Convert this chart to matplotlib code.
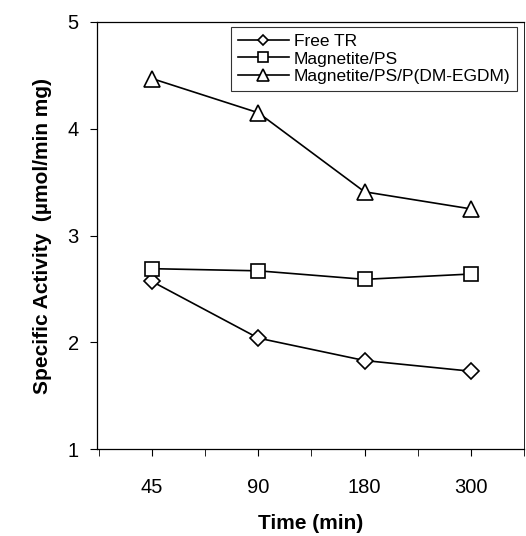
import matplotlib.pyplot as plt
import numpy as np

plt.rcParams['font.family'] = ['Liberation Sans', 'DejaVu Sans']

# data
times = ['45', '90', '180', '300']
free_tr = [2.57, 2.04, 1.83, 1.73]
magnetite_ps = [2.69, 2.67, 2.59, 2.64]
magnetite_ps_p = [4.47, 4.15, 3.41, 3.25]

x = np.arange(len(times))

fig = plt.figure(figsize=(5.26, 5.36), dpi=100)
ax = fig.add_axes([0.184, 0.162, 0.812, 0.797])

style = dict(color='black', lw=1.2, mfc='white', mec='black', mew=1.2)
ax.plot(x, free_tr, marker='D', ms=8, label='Free TR', **style)
ax.plot(x, magnetite_ps, marker='s', ms=10, label='Magnetite/PS', **style)
ax.plot(x, magnetite_ps_p, marker='^', ms=12, label='Magnetite/PS/P(DM-EGDM)', **style)

ax.set_xlim(-0.52, 3.47)
ax.set_ylim(1, 5)
ax.set_xticks(x)
ax.set_xticklabels(times)
ax.set_xticks(np.arange(-0.5, 3.6, 0.5), minor=True)
ax.set_yticks([1, 2, 3, 4, 5])
ax.tick_params(axis='both', which='major', labelsize=14.5, length=5, direction='out',
               pad=8)
ax.tick_params(axis='x', which='minor', length=5, direction='out')
ax.tick_params(axis='x', which='major', pad=16)

for s in ['left', 'bottom', 'top', 'right']:
    ax.spines[s].set_linewidth(0.9)
ax.spines['right'].set_linewidth(0.6)

ax.set_xlabel('Time (min)', fontsize=15, fontweight='bold', labelpad=12)
ax.set_ylabel('Specific Activity  (\u00b5mol/min mg)', fontsize=15,
              fontweight='bold', labelpad=11)

leg = ax.legend(loc='upper left', bbox_to_anchor=(0.315, 0.989), fontsize=12.5,
                frameon=True, fancybox=False, edgecolor='black',
                handlelength=2.9, handletextpad=0.3, borderpad=0.4,
                labelspacing=0.15, borderaxespad=0.0, markerscale=0.7)
leg.get_frame().set_linewidth(0.8)

fig.savefig('out.png', dpi=100)
